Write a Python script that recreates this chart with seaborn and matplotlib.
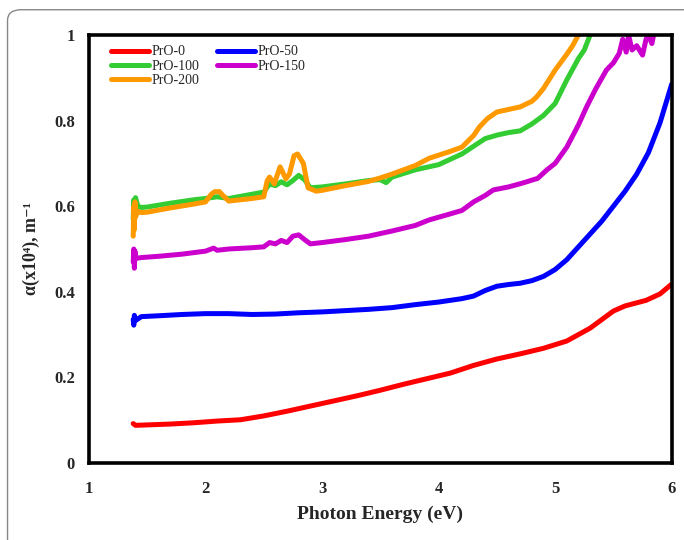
import matplotlib
matplotlib.use("Agg")
import matplotlib.pyplot as plt
import matplotlib.patches as mpatches
import seaborn as sns
import numpy as np
import pandas as pd

# data (photon energy in eV, alpha x10^4 in m^-1)
e_pro0 = [1.38, 1.40, 1.5, 1.7, 1.9, 2.1, 2.3, 2.5, 2.7, 2.9, 3.1, 3.3, 3.5, 3.7, 3.9,
          4.1, 4.3, 4.5, 4.7, 4.9, 5.1, 5.3, 5.5, 5.6, 5.78, 5.9, 6.0]
a_pro0 = [0.092, 0.088, 0.089, 0.091, 0.094, 0.098, 0.101, 0.110, 0.121, 0.133, 0.145, 0.157,
          0.170, 0.184, 0.197, 0.210, 0.228, 0.243, 0.255, 0.268, 0.285, 0.315, 0.355, 0.367,
          0.380, 0.395, 0.418]

e_pro50 = [1.38, 1.385, 1.39, 1.40, 1.45, 1.6, 1.8, 2.0, 2.2, 2.4, 2.6, 2.8, 3.0, 3.2, 3.4,
           3.6, 3.8, 4.0, 4.2, 4.3, 4.4, 4.5, 4.6, 4.7, 4.8, 4.9, 5.0, 5.1, 5.2, 5.3, 5.4,
           5.5, 5.6, 5.7, 5.8, 5.9, 6.0]
a_pro50 = [0.335, 0.322, 0.345, 0.333, 0.342, 0.344, 0.347, 0.349, 0.349, 0.347, 0.348, 0.351,
           0.353, 0.356, 0.359, 0.363, 0.370, 0.376, 0.384, 0.390, 0.403, 0.413, 0.417, 0.420,
           0.426, 0.436, 0.452, 0.475, 0.505, 0.535, 0.565, 0.600, 0.635, 0.675, 0.725, 0.795,
           0.885]

e_pro100 = [1.38, 1.385, 1.39, 1.40, 1.42, 1.45, 1.5, 1.7, 1.9, 2.0, 2.1, 2.2, 2.4, 2.5, 2.55,
            2.6, 2.65, 2.7, 2.75, 2.8, 2.85, 2.9, 3.0, 3.2, 3.4, 3.5, 3.55, 3.6, 3.8, 4.0, 4.2,
            4.3, 4.4, 4.5, 4.6, 4.7, 4.8, 4.9, 5.0, 5.1, 5.2, 5.25, 5.3, 5.33]
a_pro100 = [0.57, 0.615, 0.58, 0.62, 0.60, 0.597, 0.598, 0.607, 0.615, 0.618, 0.622, 0.618,
            0.628, 0.633, 0.652, 0.648, 0.657, 0.650, 0.660, 0.672, 0.662, 0.643, 0.645, 0.652,
            0.660, 0.662, 0.655, 0.668, 0.685, 0.697, 0.722, 0.740, 0.758, 0.766, 0.772, 0.776,
            0.792, 0.812, 0.840, 0.895, 0.945, 0.965, 1.0, 1.03]

e_pro150 = [1.38, 1.385, 1.39, 1.395, 1.40, 1.45, 1.6, 1.8, 2.0, 2.07, 2.1, 2.2, 2.4, 2.5,
            2.55, 2.6, 2.65, 2.7, 2.75, 2.8, 2.85, 2.9, 3.0, 3.2, 3.4, 3.6, 3.8, 3.92, 4.1,
            4.2, 4.3, 4.4, 4.47, 4.6, 4.72, 4.85, 4.93, 5.0, 5.1, 5.2, 5.27, 5.35, 5.44, 5.5,
            5.55, 5.58, 5.61, 5.63, 5.66, 5.7, 5.75, 5.78, 5.8, 5.83, 5.86]
a_pro150 = [0.47, 0.50, 0.455, 0.495, 0.478, 0.48, 0.483, 0.488, 0.495, 0.502, 0.497, 0.50,
            0.503, 0.505, 0.515, 0.512, 0.52, 0.515, 0.53, 0.533, 0.522, 0.512, 0.515, 0.522,
            0.53, 0.542, 0.555, 0.568, 0.582, 0.59, 0.61, 0.625, 0.638, 0.645, 0.654, 0.665,
            0.685, 0.70, 0.738, 0.79, 0.832, 0.875, 0.918, 0.935, 0.957, 0.99, 0.96, 1.0,
            0.965, 0.975, 0.953, 0.99, 1.0, 0.98, 1.02]

e_pro200 = [1.38, 1.385, 1.39, 1.395, 1.40, 1.42, 1.45, 1.5, 1.7, 1.9, 2.0, 2.05, 2.08, 2.12,
            2.15, 2.2, 2.4, 2.5, 2.53, 2.55, 2.59, 2.64, 2.69, 2.72, 2.76, 2.79, 2.84, 2.88,
            2.95, 3.0, 3.2, 3.4, 3.5, 3.6, 3.8, 3.92, 4.1, 4.2, 4.3, 4.35, 4.42, 4.5, 4.6, 4.7,
            4.8, 4.84, 4.9, 5.0, 5.1, 5.15, 5.2, 5.23]
a_pro200 = [0.53, 0.60, 0.545, 0.61, 0.575, 0.588, 0.585, 0.586, 0.596, 0.605, 0.610, 0.628,
            0.634, 0.634, 0.625, 0.612, 0.618, 0.622, 0.66, 0.668, 0.652, 0.692, 0.664, 0.675,
            0.718, 0.722, 0.70, 0.643, 0.635, 0.637, 0.648, 0.658, 0.666, 0.675, 0.695, 0.712,
            0.728, 0.738, 0.765, 0.785, 0.805, 0.82, 0.826, 0.832, 0.845, 0.855, 0.875, 0.918,
            0.955, 0.975, 1.0, 1.03]

names = ["PrO-0", "PrO-50", "PrO-100", "PrO-150", "PrO-200"]
colors = ["#ff0000", "#0000ff", "#33cc33", "#cc00cc", "#ff9900"]
x_ticks = [1, 2, 3, 4, 5, 6]
y_ticks = [0, 0.2, 0.4, 0.6, 0.8, 1]
y_tick_labels = ["0", "0.2", "0.4", "0.6", "0.8", "1"]

frames = []
for n, e, a in zip(names,
                   [e_pro0, e_pro50, e_pro100, e_pro150, e_pro200],
                   [a_pro0, a_pro50, a_pro100, a_pro150, a_pro200]):
    frames.append(pd.DataFrame({"E": e, "alpha": a, "sample": n}))
df = pd.concat(frames, ignore_index=True)

sns.set_style("white")
serif = ["Liberation Serif", "DejaVu Serif"]
plt.rcParams["font.family"] = serif

fig = plt.figure(figsize=(6.84, 5.40), dpi=100)
ax = fig.add_axes([0.130, 0.1426, 0.852, 0.7926])

sns.lineplot(data=df, x="E", y="alpha", hue="sample", hue_order=names,
             palette=dict(zip(names, colors)), estimator=None, sort=False,
             lw=3.6, ax=ax, legend=False)

ax.set_xlim(1, 6)
ax.set_ylim(0, 1)
ax.set_xticks(x_ticks)
ax.set_yticks(y_ticks)
ax.set_yticklabels(y_tick_labels)
for lab in ax.get_xticklabels() + ax.get_yticklabels():
    lab.set_fontweight("bold")
    lab.set_fontsize(12)
ax.tick_params(direction="out", length=4, width=2.2, color="black")
ax.tick_params(axis="x", pad=9)
ax.tick_params(axis="y", pad=6)

for s in ax.spines.values():
    s.set_linewidth(2.6)
    s.set_color("black")

ax.set_xlabel("Photon Energy (eV)", fontsize=14, fontweight="bold", labelpad=6)
ax.set_ylabel("α(x10⁴), m⁻¹", fontsize=13, fontweight="bold", labelpad=10)

# legend: two columns, filled column-wise
handles = [plt.Line2D([], [], color=c, lw=3.6) for c in colors]
order = [0, 2, 4, 1, 3]
ax.legend([handles[i] for i in order], [names[i] for i in order], ncol=2,
          loc="upper left", bbox_to_anchor=(0.02, 1.0), frameon=False,
          fontsize=10, handlelength=2.75, handletextpad=0.15, columnspacing=1.3,
          labelspacing=0.1, borderaxespad=0.35)

# light rounded frame around the figure
box = mpatches.FancyBboxPatch((0.011, -0.05), 1.1, 1.032, transform=fig.transFigure,
                              boxstyle="round,pad=0,rounding_size=0.02",
                              fill=False, ec="#888888", lw=1.0)
fig.patches.append(box)

fig.savefig("out.png", dpi=100)
